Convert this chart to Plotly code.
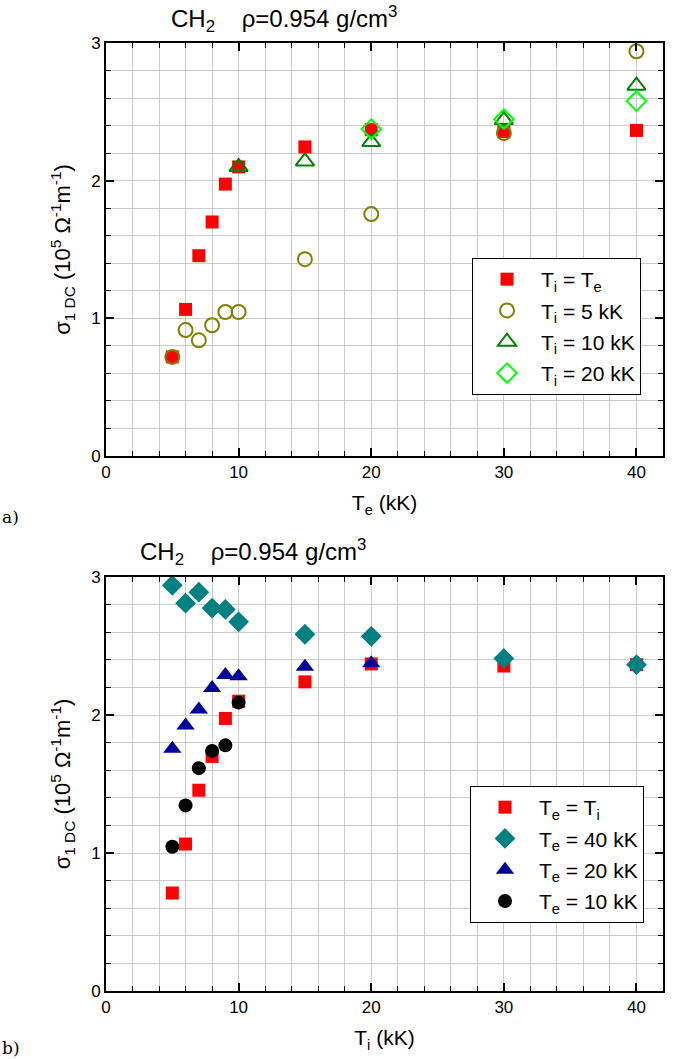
import plotly.graph_objects as go

# ---- data: panel a (x = Te in kK) ----
te_eq = [5, 6, 7, 8, 9, 10, 15, 20, 30, 40]
sig_eq = [0.72, 1.065, 1.455, 1.70, 1.975, 2.10, 2.245, 2.37, 2.355, 2.365]

te_ti5 = [5, 6, 7, 8, 9, 10, 15, 20, 30, 40]
sig_ti5 = [0.72, 0.915, 0.84, 0.95, 1.046, 1.046, 1.43, 1.757, 2.345, 2.94]

te_ti10 = [10, 15, 20, 30, 40]
sig_ti10 = [2.10, 2.14, 2.28, 2.44, 2.69]

te_ti20 = [20, 30, 40]
sig_ti20 = [2.375, 2.447, 2.578]

# ---- data: panel b (x = Ti in kK) ----
ti_eq = [5, 6, 7, 8, 9, 10, 15, 20, 30, 40]
sigb_eq = [0.71, 1.065, 1.455, 1.70, 1.975, 2.10, 2.24, 2.37, 2.355, 2.365]

ti_te40 = [5, 6, 7, 8, 9, 10, 15, 20, 30, 40]
sig_te40 = [2.94, 2.81, 2.89, 2.775, 2.765, 2.675, 2.585, 2.57, 2.41, 2.365]

ti_te20 = [5, 6, 7, 8, 9, 10, 15, 20]
sig_te20 = [1.755, 1.924, 2.04, 2.195, 2.29, 2.28, 2.35, 2.375]

ti_te10 = [5, 6, 7, 8, 9, 10]
sig_te10 = [1.045, 1.345, 1.615, 1.74, 1.78, 2.09]

W, H = 683, 1059
FONT = "Arial, 'Liberation Sans', sans-serif"


def px_x(p):
    return p / W


def px_y(p):
    return 1 - p / H


fig = go.Figure()

# panel a traces
fig.add_trace(go.Scatter(x=te_eq, y=sig_eq, mode="markers", name="T<sub>i</sub> = T<sub>e</sub>",
                         legendgroup="a1",
                         marker=dict(symbol="square", size=13, color="#ff0000"),
                         xaxis="x", yaxis="y", legend="legend"))
fig.add_trace(go.Scatter(x=te_ti5, y=sig_ti5, mode="markers", name="T<sub>i</sub> = 5 kK",
                         legendgroup="a2",
                         marker=dict(symbol="circle-open", size=14, color="#808000", line=dict(width=2)),
                         xaxis="x", yaxis="y", legend="legend"))
fig.add_trace(go.Scatter(x=te_ti10, y=sig_ti10, mode="markers", name="T<sub>i</sub> = 10 kK",
                         legendgroup="a3",
                         marker=dict(symbol="triangle-up-open", size=16, color="#008000", line=dict(width=2)),
                         xaxis="x", yaxis="y", legend="legend"))
fig.add_trace(go.Scatter(x=te_ti20, y=sig_ti20, mode="markers", name="T<sub>i</sub> = 20 kK",
                         legendgroup="a4",
                         marker=dict(symbol="diamond-open", size=15, color="#00ff00", line=dict(width=2)),
                         xaxis="x", yaxis="y", legend="legend"))

# panel b traces
fig.add_trace(go.Scatter(x=ti_eq, y=sigb_eq, mode="markers", name="T<sub>e</sub> = T<sub>i</sub>",
                         legendgroup="b1",
                         marker=dict(symbol="square", size=13, color="#ff0000"),
                         xaxis="x2", yaxis="y2", legend="legend2"))
fig.add_trace(go.Scatter(x=ti_te40, y=sig_te40, mode="markers", name="T<sub>e</sub> = 40 kK",
                         legendgroup="b2",
                         marker=dict(symbol="diamond", size=16, color="#008080"),
                         xaxis="x2", yaxis="y2", legend="legend2"))
fig.add_trace(go.Scatter(x=ti_te20, y=sig_te20, mode="markers", name="T<sub>e</sub> = 20 kK",
                         legendgroup="b3",
                         marker=dict(symbol="triangle-up", size=16, color="#000099"),
                         xaxis="x2", yaxis="y2", legend="legend2"))
fig.add_trace(go.Scatter(x=ti_te10, y=sig_te10, mode="markers", name="T<sub>e</sub> = 10 kK",
                         legendgroup="b4",
                         marker=dict(symbol="circle", size=14, color="#000000"),
                         xaxis="x2", yaxis="y2", legend="legend2"))

xdom = [px_x(106), px_x(663)]
ydom_a = [px_y(456), px_y(43)]
ydom_b = [px_y(991), px_y(577)]

grid_c = "#cccccc"


def xaxis_cfg(title, anchor):
    return dict(domain=xdom, anchor=anchor, range=[0, 42], dtick=10, tick0=0,
                automargin=False,
                showline=True, linecolor="black", linewidth=2, mirror="ticks",
                ticks="inside", ticklen=8, tickwidth=1.5, tickcolor="black",
                showgrid=True, gridcolor=grid_c, gridwidth=1, zeroline=False,
                minor=dict(dtick=2, ticks="inside", ticklen=5, tickwidth=1, tickcolor="black",
                           showgrid=True, gridcolor=grid_c, gridwidth=1),
                tickfont=dict(family=FONT, size=17, color="black"),
                title=dict(text=title, font=dict(family=FONT, size=21, color="black"), standoff=14))


def yaxis_cfg(dom, anchor):
    return dict(domain=dom, anchor=anchor, range=[0, 3], dtick=1, tick0=0,
                automargin=False,
                showline=True, linecolor="black", linewidth=2, mirror="ticks",
                ticks="inside", ticklen=8, tickwidth=1.5, tickcolor="black",
                showgrid=True, gridcolor=grid_c, gridwidth=1, zeroline=False,
                minor=dict(dtick=0.2, ticks="inside", ticklen=5, tickwidth=1, tickcolor="black",
                           showgrid=True, gridcolor=grid_c, gridwidth=1),
                tickfont=dict(family=FONT, size=17, color="black"),
                title=dict(text="σ<sub>1 DC</sub> (10<sup>5</sup> Ω<sup>-1</sup>m<sup>-1</sup>)",
                           font=dict(family=FONT, size=22, color="black"), standoff=14))


legend_common = dict(bgcolor="white", bordercolor="black", borderwidth=1,
                     font=dict(family=FONT, size=21, color="black"),
                     xanchor="left", yanchor="top", traceorder="grouped",
                     tracegroupgap=1, itemwidth=58)

fig.update_layout(
    width=W, height=H, margin=dict(l=0, r=0, t=0, b=0),
    paper_bgcolor="white", plot_bgcolor="white",
    xaxis=xaxis_cfg("T<sub>e</sub> (kK)", "y"),
    yaxis=yaxis_cfg(ydom_a, "x"),
    xaxis2=xaxis_cfg("T<sub>i</sub> (kK)", "y2"),
    yaxis2=yaxis_cfg(ydom_b, "x2"),
    legend=dict(x=px_x(472), y=px_y(258), **legend_common),
    legend2=dict(x=px_x(470), y=px_y(786), **legend_common),
    annotations=[
        dict(text="CH<sub>2</sub>    ρ=0.954 g/cm<sup>3</sup>", x=px_x(284), y=px_y(19),
             xref="paper", yref="paper", showarrow=False, xanchor="center", yanchor="middle",
             font=dict(family=FONT, size=24, color="black")),
        dict(text="CH<sub>2</sub>    ρ=0.954 g/cm<sup>3</sup>", x=px_x(253), y=px_y(552),
             xref="paper", yref="paper", showarrow=False, xanchor="center", yanchor="middle",
             font=dict(family=FONT, size=24, color="black")),
        dict(text="a)", x=px_x(0), y=px_y(517), xref="paper", yref="paper", showarrow=False,
             xanchor="left", yanchor="middle", font=dict(family="DejaVu Serif", size=17, color="black")),
        dict(text="b)", x=px_x(0), y=px_y(1048), xref="paper", yref="paper", showarrow=False,
             xanchor="left", yanchor="middle", font=dict(family="DejaVu Serif", size=17, color="black")),
    ],
    showlegend=True,
)

fig.write_html("out.html")
